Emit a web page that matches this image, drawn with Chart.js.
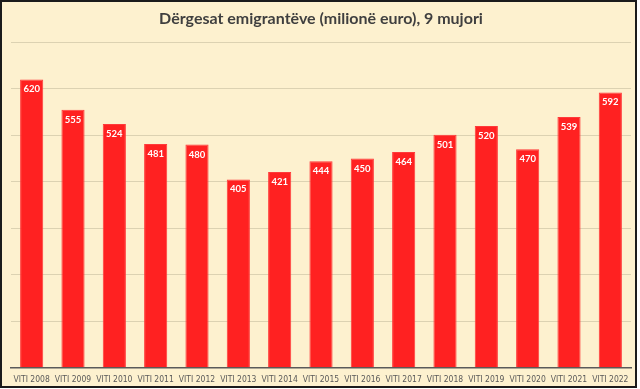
<!DOCTYPE html>
<html lang="sq">
<head>
<meta charset="UTF-8">
<title>Dërgesat emigrantëve</title>
<script src="https://cdn.jsdelivr.net/npm/chart.js"></script>
<style>
  html, body { margin: 0; padding: 0; background: #fff; }
  #box {
    width: 637px; height: 388px; box-sizing: border-box;
    border: 2px solid #1b1b1b; background: #FDF1CF;
  }
  #wrap { width: 633px; height: 384px; }
</style>
</head>
<body>
<div id="box"><div id="wrap"><canvas id="myChart"></canvas></div></div>
<script>
// values
const years = ['VITI 2008', 'VITI 2009', 'VITI 2010', 'VITI 2011', 'VITI 2012', 'VITI 2013', 'VITI 2014', 'VITI 2015',
               'VITI 2016', 'VITI 2017', 'VITI 2018', 'VITI 2019', 'VITI 2020', 'VITI 2021', 'VITI 2022'];
const remittances = [620, 555, 524, 481, 480, 405, 421, 444, 450, 464, 501, 520, 470, 539, 592];
const yMax = 700;
const yStep = 100;

// white value labels just inside the top of each bar
const barLabels = {
  id: 'barLabels',
  afterDatasetsDraw(chart) {
    const ctx = chart.ctx;
    const meta = chart.getDatasetMeta(0);
    ctx.save();
    ctx.fillStyle = '#ffffff';
    ctx.font = 'bold 9.5px Lato';
    ctx.textAlign = 'center';
    ctx.textBaseline = 'middle';
    meta.data.forEach((bar, i) => {
      ctx.fillText(remittances[i], bar.x, bar.y + 10);
    });
    ctx.restore();
  }
};

new Chart(document.getElementById('myChart'), {
  type: 'bar',
  data: {
    labels: years,
    datasets: [{
      data: remittances,
      backgroundColor: '#FF2121',
      borderColor: '#FF3A3A',
      borderWidth: 1,
      categoryPercentage: 1,
      barPercentage: 0.56
    }]
  },
  options: {
    responsive: true,
    maintainAspectRatio: false,
    animation: false,
    layout: { padding: { left: 9, right: 4, top: 0, bottom: 2 } },
    plugins: {
      legend: { display: false },
      tooltip: { enabled: false },
      title: {
        display: true,
        text: 'Dërgesat emigrantëve (milionë euro), 9 mujori',
        color: '#3f3f3f',
        font: { family: 'Lato', size: 16, weight: 'bold' },
        padding: { top: 7, bottom: 14 }
      }
    },
    scales: {
      x: {
        grid: { display: false },
        border: { color: '#5a5a5a', width: 1.5 },
        ticks: {
          color: '#595959',
          font: { family: "'Liberation Sans Narrow', 'DejaVu Sans Condensed', Lato", size: 8.5 },
          maxRotation: 0, autoSkip: false, padding: -1
        }
      },
      y: {
        min: 0, max: yMax,
        ticks: { display: false, stepSize: yStep },
        grid: { color: '#DCD2B2', lineWidth: 1, drawTicks: false },
        border: { display: false }
      }
    }
  },
  plugins: [barLabels]
});
</script>
</body>
</html>
